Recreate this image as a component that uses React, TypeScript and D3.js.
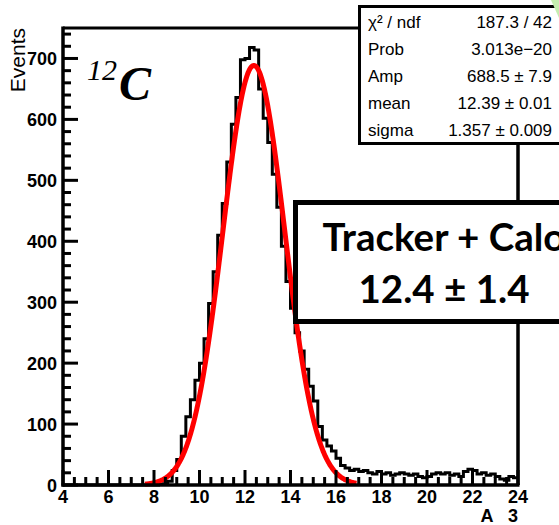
import React from 'react';
import * as d3 from 'd3';

// Histogram: 100 bins of width 0.2 from 4 to 24
const binLow = 4;
const binWidth = 0.2;
const counts = [
  0, 0, 0, 0, 0, 0, 0, 0, 0, 0,
  0, 0, 0, 0, 0, 0, 0, 0, 0, 0,
  0, 1, 2, 6, 24, 42, 80, 112, 140, 172,
  200, 240, 298, 350, 410, 462, 530, 592, 636, 698,
  700, 718, 714, 650, 602, 562, 510, 456, 392, 334,
  290, 250, 220, 190, 162, 138, 96, 74, 64, 56,
  44, 32, 28, 24, 26, 22, 24, 20, 18, 22,
  18, 20, 16, 18, 20, 18, 16, 18, 14, 12,
  14, 18, 20, 18, 20, 16, 18, 14, 22, 26,
  24, 18, 20, 16, 18, 14, 10, 8, 14, 12,
];

const xMajorTicks = [4, 6, 8, 10, 12, 14, 16, 18, 20, 22, 24];
const yMajorTicks = [0, 100, 200, 300, 400, 500, 600, 700];

// Gaussian fit parameters
const fitAmp = 688.5;
const fitMean = 12.39;
const fitSigma = 1.357;
const fitRange = [7.6, 16.9];

const statLabels = ['χ² / ndf', 'Prob', 'Amp', 'mean', 'sigma'];
const statValues = ['187.3 / 42', '3.013e−20', '688.5 ± 7.9', '12.39 ± 0.01', '1.357 ± 0.009'];
const boxLines = ['Tracker + Calo', '12.4 ± 1.4'];

export default function App() {
  const W = 559, H = 525;
  const left = 63, right = 518, top = 28, bottom = 485;
  const x = d3.scaleLinear().domain([4, 24]).range([left, right]);
  const y = d3.scaleLinear().domain([0, 750]).range([bottom, top]);

  const pts: [number, number][] = counts.map((c, i) => [binLow + i * binWidth, c]);
  pts.push([binLow + counts.length * binWidth, counts[counts.length - 1]]);
  const histPath = d3.line<[number, number]>()
    .x(d => x(d[0]))
    .y(d => y(d[1]))
    .curve(d3.curveStepAfter)(pts) as string;

  const fitXs = d3.range(fitRange[0], fitRange[1] + 1e-9, 0.02);
  const fitPath = d3.line<number>()
    .x(d => x(d))
    .y(d => y(fitAmp * Math.exp(-((d - fitMean) ** 2) / (2 * fitSigma * fitSigma))))
    .curve(d3.curveLinear)(fitXs) as string;

  const xMinor = d3.range(4, 24.001, 0.5).filter(v => Math.abs(v / 2 - Math.round(v / 2)) > 1e-6);
  const yMinor = d3.range(0, 741, 20).filter(v => v % 100 !== 0);

  const tickFont = "'Liberation Sans', Arial, Helvetica, sans-serif";
  const serif = "'Liberation Serif', 'Times New Roman', serif";
  const rowY = [22, 49, 76, 103, 130];

  return (
    <svg width={W} height={H} style={{ position: 'absolute', left: 0, top: 0, background: '#fff' }}>
      <rect x={0} y={0} width={W} height={H} fill="#fff" />
      {/* histogram */}
      <path d={histPath} fill="none" stroke="#000" strokeWidth={3} />
      {/* fit */}
      <path d={fitPath} fill="none" stroke="#ff0000" strokeWidth={5} strokeLinejoin="round" />
      {/* frame */}
      <line x1={left} y1={top} x2={right} y2={top} stroke="#000" strokeWidth={3} />
      <line x1={right} y1={top} x2={right} y2={bottom} stroke="#000" strokeWidth={3.5} />
      <line x1={left} y1={top - 1.5} x2={left} y2={bottom + 1.5} stroke="#000" strokeWidth={3.5} />
      <line x1={left - 1.5} y1={bottom} x2={right + 1.5} y2={bottom} stroke="#000" strokeWidth={3.5} />
      {/* y ticks */}
      {yMajorTicks.map(v => (
        <line key={'ym' + v} x1={left} x2={left + 15} y1={y(v)} y2={y(v)} stroke="#000" strokeWidth={3} />
      ))}
      {yMinor.map(v => (
        <line key={'yn' + v} x1={left} x2={left + 8} y1={y(v)} y2={y(v)} stroke="#000" strokeWidth={3} />
      ))}
      {/* x ticks */}
      {xMajorTicks.map(v => (
        <line key={'xm' + v} x1={x(v)} x2={x(v)} y1={bottom} y2={bottom - 15} stroke="#000" strokeWidth={3} />
      ))}
      {xMinor.map(v => (
        <line key={'xn' + v} x1={x(v)} x2={x(v)} y1={bottom} y2={bottom - 8} stroke="#000" strokeWidth={3} />
      ))}
      {/* tick labels */}
      {yMajorTicks.map(v => (
        <text key={'yl' + v} x={57} y={y(v) + 6.5} textAnchor="end" fontFamily={tickFont} fontWeight="bold" fontSize={18} fill="#000">{v}</text>
      ))}
      {xMajorTicks.map(v => (
        <text key={'xl' + v} x={x(v)} y={503} textAnchor="middle" fontFamily={tickFont} fontWeight="bold" fontSize={18} fill="#000">{v}</text>
      ))}
      {/* axis titles */}
      <text transform={`translate(25,${top}) rotate(-90)`} textAnchor="end" fontFamily={tickFont} fontSize={21} fill="#000">Events</text>
      <text x={487} y={522} textAnchor="middle" fontFamily={tickFont} fontWeight="bold" fontSize={18} fill="#000">A</text>
      <text x={513} y={522} textAnchor="middle" fontFamily={tickFont} fontWeight="bold" fontSize={18} fill="#000">3</text>
      {/* 12C label */}
      <text x={87} y={80} fontFamily={serif} fontStyle="italic" fontSize={30} fill="#000">12</text>
      <text x={119} y={100} fontFamily={serif} fontStyle="italic" fontWeight="bold" fontSize={48} fill="#000">C</text>
      {/* stats box */}
      <rect x={359.5} y={6.5} width={220} height={137} fill="#fff" stroke="#000" strokeWidth={3} />
      {statLabels.map((s, i) => (
        <text key={'sl' + i} x={368} y={rowY[i] + 6} fontFamily={tickFont} fontSize={17} fill="#000">{s}</text>
      ))}
      {statValues.map((s, i) => (
        <text key={'sv' + i} x={552} y={rowY[i] + 6} textAnchor="end" fontFamily={tickFont} fontSize={17} fill="#000">{s}</text>
      ))}
      <polygon points="551,0 559,0 559,18" fill="#c6eeb0" />
      {/* label box */}
      <rect x={295.5} y={202.5} width={290} height={119} fill="#fff" stroke="#000" strokeWidth={5} />
      <text x={444} y={251} textAnchor="middle" fontFamily="Lato, 'Open Sans', sans-serif" fontWeight="bold" fontSize={38.5} fill="#000">{boxLines[0]}</text>
      <text x={444} y={303} textAnchor="middle" fontFamily="Lato, 'Open Sans', sans-serif" fontWeight="bold" fontSize={38.5} fill="#000">{boxLines[1]}</text>
    </svg>
  );
}
